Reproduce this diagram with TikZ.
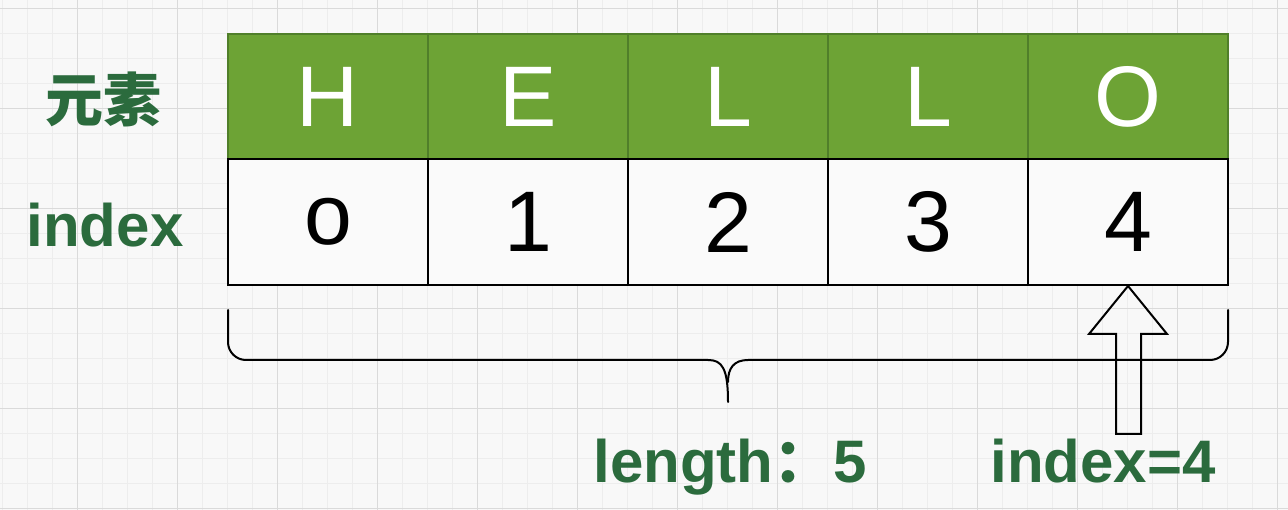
\documentclass[tikz,border=0pt]{standalone}
\usepackage{fontspec}
\setmainfont{Liberation Sans}
\newfontfamily\cjk{Noto Sans CJK SC}
\definecolor{bgc}{HTML}{F8F8F8}
\definecolor{gminor}{HTML}{EDEDED}
\definecolor{gmajor}{HTML}{DADADA}
\definecolor{cellgreen}{HTML}{6DA335}
\definecolor{cellgreenline}{HTML}{507F2A}
\definecolor{cellwhite}{HTML}{FAFAFA}
\definecolor{labgreen}{HTML}{2B6B3D}
\tikzset{
  greencell/.style={draw=cellgreenline, line width=1.2bp, fill=cellgreen, minimum width=200bp, minimum height=125bp, inner sep=0pt, text=white, font=\fontsize{86bp}{90bp}\selectfont},
  whitecell/.style={draw=black, line width=2bp, fill=cellwhite, minimum width=200bp, minimum height=126bp, inner sep=0pt, text=black, font=\fontsize{86bp}{90bp}\selectfont},
  sidelabel/.style={text=labgreen, font=\fontsize{60bp}{64bp}\selectfont\bfseries, inner sep=0pt},
  cjklabel/.style={text=labgreen, font=\fontsize{58bp}{62bp}\selectfont\cjk\bfseries, inner sep=0pt},
  blackline/.style={draw=black, line width=2bp},
}
\begin{document}
\begin{tikzpicture}[x=1bp,y=-1bp]
\useasboundingbox (0,0) rectangle (1288,510);
\fill[bgc] (0,0) rectangle (1288,510);
% grid
\foreach \x in {2,27,...,1288} {\draw[gminor, line width=0.8bp] (\x,0) -- (\x,510);}
\foreach \y in {8,33,...,510} {\draw[gminor, line width=0.8bp] (0,\y) -- (1288,\y);}
\foreach \x in {77,177,...,1288} {\draw[gmajor, line width=0.9bp] (\x,0) -- (\x,510);}
\foreach \y in {8,108,...,510} {\draw[gmajor, line width=0.9bp] (0,\y) -- (1288,\y);}
% top row
\node[greencell] (g0) at (328,96.5) {H};
\node[greencell] (g1) at (528,96.5) {E};
\node[greencell] (g2) at (728,96.5) {L};
\node[greencell] (g3) at (928,96.5) {L};
\node[greencell] (g4) at (1128,96.5) {O};
% bottom row
\node[whitecell] (w0) at (328,222) {o};
\node[whitecell] (w1) at (528,222) {1};
\node[whitecell] (w2) at (728,222) {2};
\node[whitecell] (w3) at (928,222) {3};
\node[whitecell] (w4) at (1128,222) {4};
% side labels
\node[cjklabel] (lab1) at (104,99) {元素};
\node[sidelabel, anchor=base] (lab2) at (105,247) {index};
% brace
\coordinate (bl) at (228,310);
\coordinate (br) at (1228,310);
\coordinate (bm) at (728,402);
\draw[blackline, line cap=round, rounded corners=18bp] (bl) -- (228,360) -- (708,360);
\draw[blackline, line cap=round] (708,360) .. controls (722,360) and (728,368) .. (bm);
\draw[blackline, line cap=round, rounded corners=18bp] (br) -- (1228,360) -- (748,360);
\draw[blackline, line cap=round] (748,360) .. controls (734,360) and (728,368) .. (728,382);
% arrow
\coordinate (tip) at (w4.south);
\draw[blackline, line join=miter] (tip) -- (1167,334) -- (1141,334) -- (1141,434) -- (1116,434) -- (1116,334) -- (1089,334) -- cycle;
% bottom labels
\node[sidelabel, anchor=base] (len) at (730,482) {length{\cjk：}5};
\node[sidelabel, anchor=base] (idx) at (1103,482) {index=4};
\end{tikzpicture}
\end{document}
